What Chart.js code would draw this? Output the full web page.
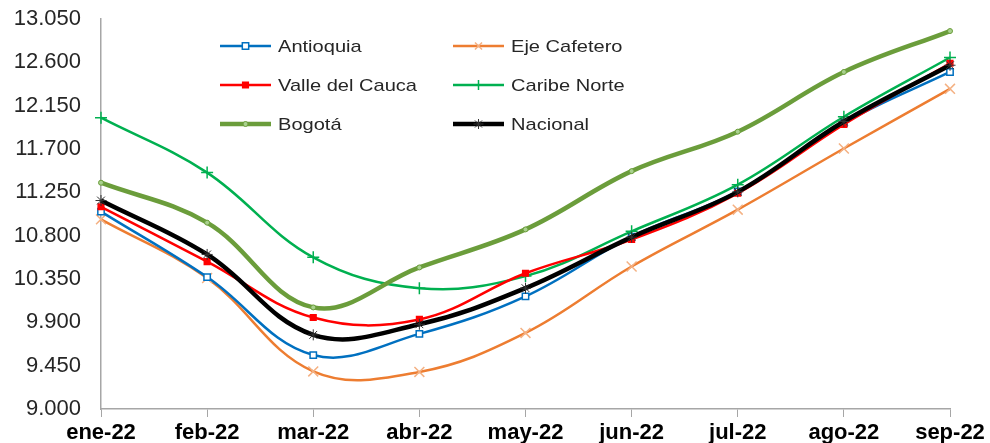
<!DOCTYPE html>
<html>
<head>
<meta charset="utf-8">
<script src="https://cdn.jsdelivr.net/npm/chart.js@4/dist/chart.umd.min.js"></script>
<style>
	html, body { margin: 0; padding: 0; background: #fff; }
	#wrap { width: 990px; height: 443px; position: relative; }
</style>
</head>
<body>
<div id="wrap"><canvas id="chart"></canvas></div>
<script>
var meses = ['ene-22', 'feb-22', 'mar-22', 'abr-22', 'may-22', 'jun-22', 'jul-22', 'ago-22', 'sep-22'];

var antioquia    = [11050, 10370, 9560, 9780, 10170, 10790, 11260, 11970, 12500];
var ejeCafetero  = [10970, 10360, 9390, 9385, 9790, 10480, 11070, 11705, 12325];
var valleCauca   = [11100, 10530, 9950, 9930, 10410, 10760, 11240, 11955, 12590];
var caribeNorte  = [12025, 11455, 10575, 10255, 10380, 10845, 11330, 12035, 12650];
var bogota       = [11350, 10935, 10055, 10470, 10865, 11470, 11880, 12500, 12925];
var nacional     = [11165, 10605, 9770, 9880, 10255, 10785, 11255, 11985, 12570];

var yTicks = [9000, 9450, 9900, 10350, 10800, 11250, 11700, 12150, 12600, 13050];

function fmt(v) {
	return String(v).replace(/\B(?=(\d{3})+(?!\d))/g, '.');
}

function serie(label, data, color, opts) {
	var ds = {
		label: label,
		data: data,
		borderColor: color,
		backgroundColor: color,
		borderWidth: 2.5,
		tension: 0.38,
		pointRadius: 4,
		pointBorderWidth: 1.5,
		fill: false
	};
	for (var k in opts) ds[k] = opts[k];
	return ds;
}

var datasets = [
	serie('Antioquia', antioquia, '#0070C0', { pointStyle: 'rect', pointBackgroundColor: '#ffffff', pointBorderColor: '#0070C0', pointRadius: 4.5, order: 5 }),
	serie('Eje Cafetero', ejeCafetero, '#ED7D31', { pointStyle: 'crossRot', pointBorderColor: '#F4B183', pointRadius: 7, pointBorderWidth: 1.5, order: 6 }),
	serie('Valle del Cauca', valleCauca, '#FF0000', { pointStyle: 'rect', pointBackgroundColor: '#FF0000', pointBorderColor: '#FF0000', pointRadius: 4, order: 3 }),
	serie('Caribe Norte', caribeNorte, '#00B050', { pointStyle: 'cross', pointBorderColor: '#00B050', pointRadius: 6, order: 4 }),
	serie('Bogotá', bogota, '#6B9D3B', { borderWidth: 4.5, pointStyle: 'circle', pointBackgroundColor: '#A9D18E', pointBorderColor: '#6B9D3B', pointRadius: 2.5, pointBorderWidth: 1, order: 2 }),
	serie('Nacional', nacional, '#000000', { borderWidth: 4.5, pointStyle: 'star', pointBorderColor: '#333333', pointRadius: 5.5, pointBorderWidth: 1, order: 1 })
];

function drawMarker(ctx, ds, x, y, r) {
	ctx.save();
	ctx.fillStyle = ds.pointBackgroundColor || ds.borderColor;
	ctx.strokeStyle = ds.pointBorderColor || ds.borderColor;
	ctx.lineWidth = ds.pointBorderWidth;
	Chart.helpers.drawPoint(ctx, {
		pointStyle: ds.pointStyle,
		radius: r,
		borderWidth: ds.pointBorderWidth,
		rotation: 0
	}, x, y);
	ctx.restore();
}

// leyenda en dos columnas dentro del area del grafico
var legendPlugin = {
	id: 'legendaManual',
	afterDatasetsDraw: function(chart) {
		var ctx = chart.ctx;
		var cols = [220, 453];
		var rows = [46, 85, 124];
		ctx.save();
		for (var i = 0; i < chart.data.datasets.length; i++) {
			var ds = chart.data.datasets[i];
			var x = cols[i % 2];
			var y = rows[Math.floor(i / 2)];
			ctx.strokeStyle = ds.borderColor;
			ctx.lineWidth = ds.borderWidth;
			ctx.beginPath();
			ctx.moveTo(x, y);
			ctx.lineTo(x + 51, y);
			ctx.stroke();
			drawMarker(ctx, ds, x + 25.5, y, Math.min(ds.pointRadius, 5));
			ctx.save();
			ctx.translate(x + 58, y + 1);
			ctx.scale(1.18, 1);
			ctx.fillStyle = '#262626';
			ctx.font = '17px "Liberation Sans", Arial, sans-serif';
			ctx.textBaseline = 'middle';
			ctx.textAlign = 'left';
			ctx.fillText(ds.label, 0, 0);
			ctx.restore();
		}
		ctx.restore();
	}
};

var ctx = document.getElementById('chart').getContext('2d');
var chart = new Chart(ctx, {
	type: 'line',
	data: { labels: meses, datasets: datasets },
	options: {
		responsive: true,
		maintainAspectRatio: false,
		animation: false,
		layout: { padding: { top: 19, right: 40, left: 0, bottom: 0 } },
		plugins: {
			legend: { display: false },
			tooltip: { enabled: false }
		},
		scales: {
			x: {
				offset: false,
				grid: { display: true, drawOnChartArea: false, drawTicks: true, tickLength: 8, color: '#A6A6A6' },
				border: { display: true, color: '#A6A6A6', width: 1.5 },
				ticks: {
					color: '#000000',
					padding: 3,
					maxRotation: 0,
					autoSkip: false,
					font: { family: '"Liberation Sans", Arial, sans-serif', size: 22, weight: 'bold' }
				},
				afterFit: function(scale) { scale.height = 34; }
			},
			y: {
				min: 9000,
				max: 13050,
				afterBuildTicks: function(scale) {
					scale.ticks = yTicks.map(function(v) { return { value: v }; });
				},
				grid: { display: false },
				border: { display: true, color: '#A6A6A6', width: 1.5 },
				ticks: {
					color: '#262626',
					padding: 12,
					font: { family: '"Liberation Sans", Arial, sans-serif', size: 22 },
					callback: function(v) { return fmt(v); }
				},
				afterFit: function(scale) {
					scale.width = 101;
					scale.paddingTop = 0;
					scale.paddingBottom = 0;
				}
			}
		}
	},
	plugins: [legendPlugin]
});
</script>
</body>
</html>
